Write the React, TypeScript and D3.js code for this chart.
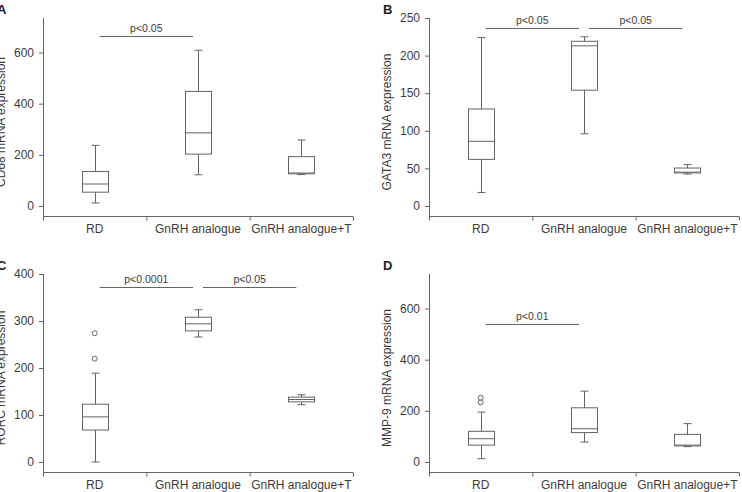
import { useEffect } from "react"
import * as d3 from "d3"

const categories = ["RD", "GnRH analogue", "GnRH analogue+T"]

// [min, q1, median, q3, max] per category
const cd68Stats = [
  [12, 54, 86, 135, 237],
  [122, 203, 286, 448, 609],
  [123, 126, 129, 193, 258],
]
const gata3Stats = [
  [18, 62, 86, 129, 224],
  [96, 154, 213, 219, 225],
  [42.5, 44, 45, 50.5, 55],
]
const rorcStats = [
  [0, 68, 96, 123, 189],
  [266, 279, 294, 308, 324],
  [122, 128, 133, 138, 143],
]
const mmp9Stats = [
  [13, 66, 91, 120, 195],
  [78, 115, 130, 212, 277],
  [60, 63, 66, 108, 150],
]

const rorcOutliers = [
  { cat: "RD", value: 274 },
  { cat: "RD", value: 220 },
]
const mmp9Outliers = [
  { cat: "RD", value: 251 },
  { cat: "RD", value: 233 },
]

const ticksA = [0, 200, 400, 600]
const ticksB = [0, 50, 100, 150, 200, 250]
const ticksC = [0, 100, 200, 300, 400]
const ticksD = [0, 200, 400, 600]

type Bracket = { from: string; to: string; value: number; label: string }
type Outlier = { cat: string; value: number }

const bracketsA: Bracket[] = [{ from: "RD", to: "GnRH analogue", value: 663, label: "p<0.05" }]
const bracketsB: Bracket[] = [
  { from: "RD", to: "GnRH analogue", value: 237, label: "p<0.05" },
  { from: "GnRH analogue", to: "GnRH analogue+T", value: 237, label: "p<0.05" },
]
const bracketsC: Bracket[] = [
  { from: "RD", to: "GnRH analogue", value: 372, label: "p<0.0001" },
  { from: "GnRH analogue", to: "GnRH analogue+T", value: 372, label: "p<0.05" },
]
const bracketsD: Bracket[] = [{ from: "RD", to: "GnRH analogue", value: 538, label: "p<0.01" }]

const LINE = "#646464"
const TEXT = "#3c3c3c"
const FONT = "Arial, 'Liberation Sans', Helvetica, sans-serif"

interface PanelProps {
  x: number
  y: number
  letter: string
  yLabel: string
  yMax: number
  ticks: number[]
  stats: number[][]
  outliers: Outlier[]
  brackets: Bracket[]
}

function Panel({ x, y, letter, yLabel, yMax, ticks, stats, outliers, brackets }: PanelProps) {
  const left = 43
  const right = 353
  const top = 18
  const zeroY = 206
  const axisY = 216.5

  const xs = d3.scaleBand().domain(categories).range([left, right]).padding(0)
  const ys = d3.scaleLinear().domain([0, yMax]).range([zeroY, top])
  const cx = (c: string) => (xs(c) || 0) + xs.bandwidth() / 2
  const boxW = 13
  const capW = 4

  const boundaries = [...categories.map((c) => xs(c) || 0), right]

  return (
    <g transform={`translate(${x},${y})`} fontFamily={FONT}>
      <text x={left - 46} y={13.5} fontSize={13} fontWeight="bold" fill="#222">
        {letter}
      </text>
      <text
        transform={`translate(${left - 38},122) rotate(-90)`}
        textAnchor="middle"
        fontSize={12}
        fill={TEXT}
      >
        {yLabel}
      </text>

      {/* y axis */}
      <line x1={left + 0.5} x2={left + 0.5} y1={ys(yMax)} y2={axisY} stroke={LINE} />
      {ticks.map((t) => (
        <g key={t}>
          <line x1={left - 4} x2={left} y1={ys(t) + 0.5} y2={ys(t) + 0.5} stroke={LINE} />
          <text x={left - 9} y={ys(t)} dy="0.35em" textAnchor="end" fontSize={12} fill={TEXT}>
            {t}
          </text>
        </g>
      ))}

      {/* x axis */}
      <line x1={left} x2={right} y1={axisY} y2={axisY} stroke={LINE} />
      {boundaries.map((b, i) => (
        <line key={i} x1={b + 0.5} x2={b + 0.5} y1={axisY} y2={axisY + 4} stroke={LINE} />
      ))}
      {categories.map((c) => (
        <text key={c} x={cx(c)} y={axisY + 16.5} textAnchor="middle" fontSize={12} fill={TEXT}>
          {c}
        </text>
      ))}

      {/* boxes */}
      {categories.map((c, i) => {
        const [mn, q1, md, q3, mx] = stats[i]
        const m = Math.round(cx(c)) + 0.5
        return (
          <g key={c} stroke={LINE} fill="none" strokeWidth={1}>
            <line x1={m} x2={m} y1={ys(q3)} y2={ys(mx)} />
            <line x1={m} x2={m} y1={ys(q1)} y2={ys(mn)} />
            <line x1={m - capW} x2={m + capW} y1={ys(mx)} y2={ys(mx)} />
            <line x1={m - capW} x2={m + capW} y1={ys(mn)} y2={ys(mn)} />
            <rect x={m - boxW} y={ys(q3)} width={boxW * 2} height={ys(q1) - ys(q3)} fill="#fff" />
            <line x1={m - boxW} x2={m + boxW} y1={ys(md)} y2={ys(md)} />
          </g>
        )
      })}

      {outliers.map((o, i) => (
        <circle key={i} cx={cx(o.cat)} cy={ys(o.value)} r={2.5} fill="none" stroke={LINE} />
      ))}

      {/* significance brackets */}
      {brackets.map((b, i) => {
        const x1 = cx(b.from) + 5
        const x2 = cx(b.to) - 5
        const by = Math.round(ys(b.value)) + 0.5
        return (
          <g key={i}>
            <line x1={x1} x2={x2} y1={by} y2={by} stroke={LINE} />
            <text x={(x1 + x2) / 2} y={by - 5} textAnchor="middle" fontSize={10.5} fill={TEXT}>
              {b.label}
            </text>
          </g>
        )
      })}
    </g>
  )
}

export default function App() {
  useEffect(() => {
    document.body.style.margin = "0"
  }, [])

  return (
    <svg width={742} height={492} style={{ display: "block", background: "#fff" }}>
      <Panel x={0} y={0} letter="A" yLabel="CD68 mRNA expression" yMax={735} ticks={ticksA}
        stats={cd68Stats} outliers={[]} brackets={bracketsA} />
      <Panel x={386} y={0} letter="B" yLabel="GATA3 mRNA expression" yMax={250} ticks={ticksB}
        stats={gata3Stats} outliers={[]} brackets={bracketsB} />
      <Panel x={0} y={256} letter="C" yLabel="RORC mRNA expression" yMax={400} ticks={ticksC}
        stats={rorcStats} outliers={rorcOutliers} brackets={bracketsC} />
      <Panel x={386} y={256} letter="D" yLabel="MMP-9 mRNA expression" yMax={735} ticks={ticksD}
        stats={mmp9Stats} outliers={mmp9Outliers} brackets={bracketsD} />
    </svg>
  )
}
